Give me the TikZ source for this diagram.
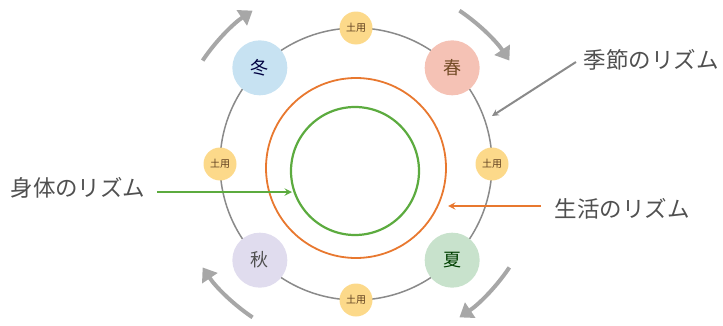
\documentclass[tikz,border=0pt]{standalone}
\usepackage{fontspec}
\setmainfont{Noto Sans CJK JP}
\usetikzlibrary{arrows.meta}
\definecolor{fuyu}{HTML}{C7E2F2}
\definecolor{haru}{HTML}{F5C2B5}
\definecolor{aki}{HTML}{E0DCEE}
\definecolor{natsu}{HTML}{C8E2CC}
\definecolor{doyo}{HTML}{FCD98A}
\definecolor{lifeorange}{HTML}{E8782F}
\definecolor{bodygreen}{HTML}{5CAB3F}
\definecolor{ringgray}{HTML}{8A8A8A}
\definecolor{txtgray}{HTML}{505050}
\begin{document}
\begin{tikzpicture}[
  x=1pt, y=1pt,
  season/.style={circle, minimum size=55pt, inner sep=0pt, font=\fontsize{18}{18}\selectfont},
  doyobox/.style={circle, fill=doyo, minimum size=33pt, inner sep=0pt, text=brown!50!black, font=\fontsize{10}{10}\selectfont},
  label/.style={text=txtgray, font=\fontsize{22.5}{24}\selectfont},
  turn/.style={line width=4pt, ringgray!75, -{Triangle[length=13pt, width=18pt]}},
  >=stealth
]
  \useasboundingbox (0,0) rectangle (723,325);
  \coordinate (C) at (356,161);
  % rhythms
  \draw[ringgray, line width=1.5pt] (C) circle (136);
  \draw[lifeorange, line width=1.8pt] (356,157) circle (90);
  \draw[bodygreen, line width=2.2pt] (355,154) circle (64);
  % seasons
  \node[season, fill=haru, text=brown!60!black] (spring) at ([shift={(45:136)}]C) {春};
  \node[season, fill=natsu, text=green!25!black] (summer) at ([shift={(-45:136)}]C) {夏};
  \node[season, fill=aki, text=txtgray] (autumn) at ([shift={(-135:136)}]C) {秋};
  \node[season, fill=fuyu, text=blue!25!black] (winter) at ([shift={(135:136)}]C) {冬};
  \node[doyobox] (d1) at ([shift={(90:136)}]C) {土用};
  \node[doyobox] (d2) at ([shift={(0:136)}]C) {土用};
  \node[doyobox] (d3) at ([shift={(-90:136)}]C) {土用};
  \node[doyobox] (d4) at ([shift={(180:136)}]C) {土用};
  % turning arrows
  \draw[turn] ([shift={(56:185)}]C) arc[start angle=56, end angle=34, radius=185];
  \draw[turn] ([shift={(-34:185)}]C) arc[start angle=-34, end angle=-56, radius=185];
  \draw[turn] ([shift={(-124:185)}]C) arc[start angle=-124, end angle=-146, radius=185];
  \draw[turn] ([shift={(146:185)}]C) arc[start angle=146, end angle=124, radius=185];
  % labels
  \node[label] (kisetsu) at (651,265) {季節のリズム};
  \node[label] (shintai) at (78,137) {身体のリズム};
  \node[label] (seikatsu) at (622,116) {生活のリズム};
  \coordinate (kisetsuTip) at (492,209);
  \coordinate (shintaiTip) at (292,133);
  \coordinate (seikatsuTip) at (448,119);
  \draw[->, ringgray, line width=2pt] (kisetsu.west) ++(-4,-2) -- (kisetsuTip);
  \draw[->, bodygreen, line width=2.2pt] (shintai.east) ++(8,-4) -- (shintaiTip);
  \draw[->, lifeorange, line width=2.2pt] (seikatsu.west) ++(-10,3) -- (seikatsuTip);
\end{tikzpicture}
\end{document}
